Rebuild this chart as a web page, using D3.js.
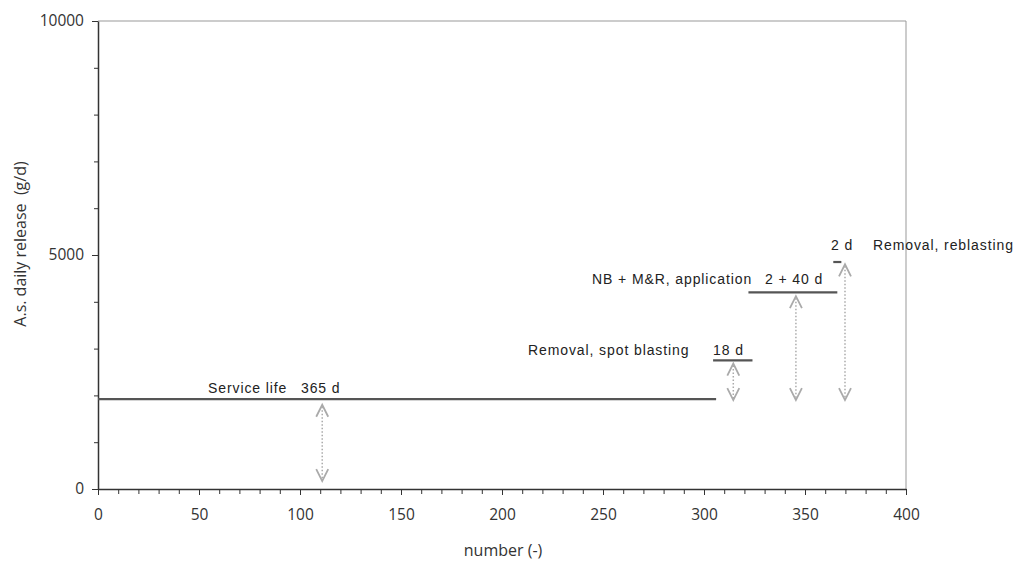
<!DOCTYPE html>
<html><head><meta charset="utf-8">
<script src="https://cdn.jsdelivr.net/npm/d3@7/dist/d3.min.js"></script>
<style>
body{margin:0;background:#fff;}
svg{display:block;}
.ann{font-family:"Liberation Sans",Arial,sans-serif;font-size:14px;fill:#222;letter-spacing:0.9px;}
.title{font-family:"Open Sans",sans-serif;font-size:16px;fill:#333;white-space:pre;}
</style></head>
<body>
<svg id="c" width="1014" height="562"></svg>
<script>
// Data
const segStart = [0, 304.5, 322, 364];
const segEnd = [306, 324, 366, 368];
const segValue = [1920, 2750, 4200, 4850];
const labelNames = ["Service life", "Removal, spot blasting", "NB + M&R, application", "Removal, reblasting"];
const labelDays = ["365 d", "18 d", "2 + 40 d", "2 d"];
const arrowX = [111, 314.5, 345.5, 369.8];
const arrowTop = [1800, 2680, 4120, 4800];
const arrowBottom = [170, 1900, 1900, 1900];
const xMajor = [0, 50, 100, 150, 200, 250, 300, 350, 400];
const yMajor = [0, 5000, 10000];

const svg = d3.select("#c");
const L = 98, R = 906, T = 21, B = 489;
const x = d3.scaleLinear().domain([0, 400]).range([L, R]);
const y = d3.scaleLinear().domain([0, 10000]).range([B, T]);

// border top/right
svg.append("line").attr("x1", L).attr("x2", R).attr("y1", T).attr("y2", T).attr("stroke", "#999").attr("stroke-width", 1);
svg.append("line").attr("x1", R).attr("x2", R).attr("y1", T).attr("y2", B).attr("stroke", "#999").attr("stroke-width", 1);

// minor ticks
const gxm = svg.append("g").attr("transform", `translate(0,${B})`)
  .call(d3.axisBottom(x).tickValues(d3.range(0, 401, 10)).tickSize(5).tickFormat(""));
gxm.select(".domain").remove();
gxm.selectAll("line").attr("stroke", "#333");
const gym = svg.append("g").attr("transform", `translate(${L},0)`)
  .call(d3.axisLeft(y).tickValues(d3.range(0, 10001, 1000)).tickSize(4).tickFormat(""));
gym.select(".domain").remove();
gym.selectAll("line").attr("stroke", "#333");

// major axes
const gx = svg.append("g").attr("transform", `translate(0,${B})`)
  .call(d3.axisBottom(x).tickValues(xMajor).tickFormat(d3.format("d")).tickSize(6).tickSizeOuter(0).tickPadding(14));
gx.select(".domain").attr("stroke", "#333").attr("stroke-width", 1.5);
gx.selectAll(".tick line").attr("stroke", "#333");
const gy = svg.append("g").attr("transform", `translate(${L},0)`)
  .call(d3.axisLeft(y).tickValues(yMajor).tickFormat(d3.format("d")).tickSize(6).tickSizeOuter(0).tickPadding(8));
gy.select(".domain").attr("stroke", "#333").attr("stroke-width", 1.5);
gy.selectAll(".tick line").attr("stroke", "#333");
svg.selectAll(".tick text").attr("font-family", "Open Sans, sans-serif").attr("font-size", 15.5).attr("fill", "#333");

// titles
svg.append("text").attr("class", "title").attr("x", 503).attr("y", 556).attr("text-anchor", "middle").text("number (-)");
svg.append("text").attr("class", "title").attr("transform", `translate(26,244) rotate(-90)`).attr("text-anchor", "middle").text("A.s. daily release  (g/d)");

// segments
svg.selectAll(".seg").data(segValue).join("line").attr("class", "seg")
  .attr("x1", (d, i) => x(segStart[i])).attr("x2", (d, i) => x(segEnd[i]))
  .attr("y1", d => y(d)).attr("y2", d => y(d))
  .attr("stroke", "#555").attr("stroke-width", 2.2);

// arrows
const ag = svg.append("g").attr("stroke", "#aaa").attr("fill", "none");
arrowX.forEach((ax, i) => {
  const px = x(ax), yt = y(arrowTop[i]), yb = y(arrowBottom[i]);
  ag.append("line").attr("x1", px).attr("x2", px).attr("y1", yt + 2).attr("y2", yb - 2)
    .attr("stroke-dasharray", "1.5,2").attr("stroke-width", 1.5);
  ag.append("path").attr("d", `M${px - 6},${yt + 12}L${px},${yt}L${px + 6},${yt + 12}`).attr("stroke-width", 1.8);
  ag.append("path").attr("d", `M${px - 6},${yb - 12}L${px},${yb}L${px + 6},${yb - 12}`).attr("stroke-width", 1.8);
});

// labels
const nameX = [208, 528, 592, 873];
const nameY = [393, 355, 284, 250];
const dayX = [301, 713, 765, 831];
labelNames.forEach((n, i) => {
  svg.append("text").attr("class", "ann").attr("x", nameX[i]).attr("y", nameY[i]).text(n);
  svg.append("text").attr("class", "ann").attr("x", dayX[i]).attr("y", nameY[i]).text(labelDays[i]);
});
</script>
</body></html>
